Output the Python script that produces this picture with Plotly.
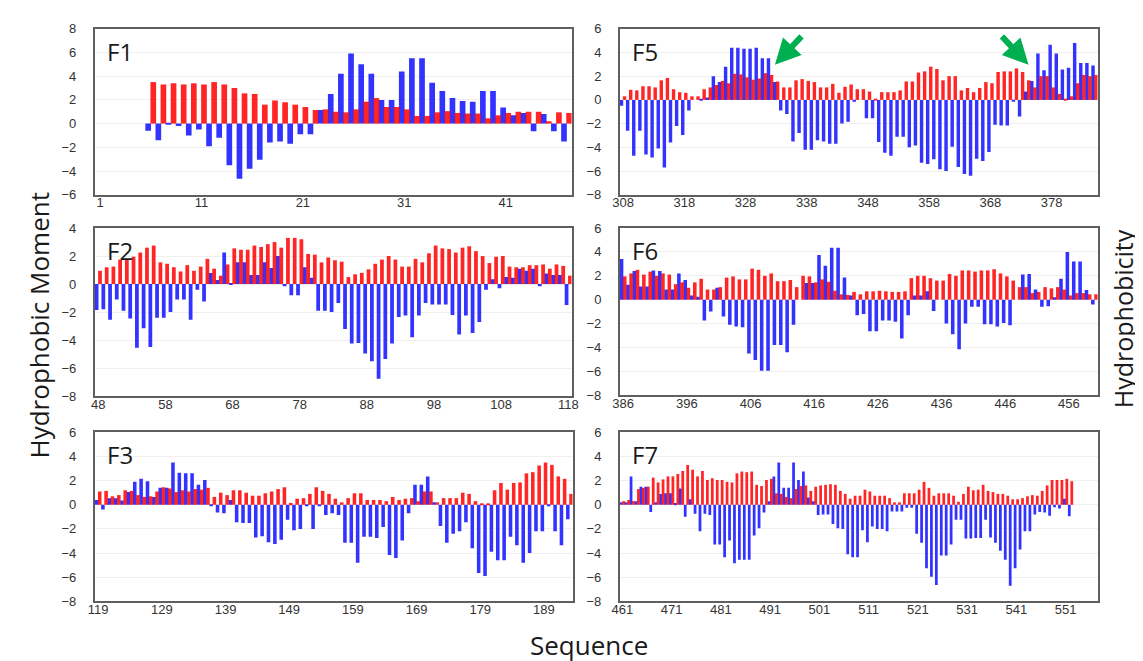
import plotly.graph_objects as go

# ---------------- data ----------------
# F1: residues 6..47 carry values (axis shows 1..47)
f1_start = 6
f1_moment = [3.5, 3.3, 3.4, 3.3, 3.4, 3.3, 3.5, 3.3, 3.0, 2.55,
             2.5, 1.6, 1.95, 1.8, 1.6, 1.4, 1.15, 1.2, 1.0, 0.95,
             1.2, 1.85, 2.15, 1.4, 1.4, 1.2, 0.65, 0.65, 0.95, 1.05,
             0.9, 0.85, 0.85, 0.45, 0.7, 0.9, 1.0, 1.0, 1.0, 0.2,
             0.95, 0.9]
f1_hydro = [-0.6, -1.4, -0.1, -0.2, -1.0, -0.5, -1.9, -1.2, -3.5, -4.65,
            -3.8, -3.05, -1.6, -1.5, -1.7, -0.9, -0.9,
            1.15, 2.5, 4.2, 5.9, 5.0, 4.2, 2.0, 2.0, 4.4, 5.5,
            5.5, 3.45, 2.75, 2.15, 1.9, 1.85, 2.75, 2.75, 1.35, 0.7,
            0.9, -0.65, 0.8, -0.65, -1.5]

# F2: residues 48..118
f2_start = 48
f2_moment = [0.95, 1.2, 1.25, 1.75, 1.8, 1.95, 2.25, 2.6, 2.75, 1.55,
             1.45, 1.2, 0.9, 1.35, 0.95, 1.25, 1.8, 1.1, 0.6, 1.4,
             2.55, 2.45, 2.45, 2.75, 2.65, 2.85, 3.0, 2.6, 3.3, 3.3,
             3.2, 2.15,
             2.1, 1.55, 1.9, 1.7, 1.6, 0.5, 0.7, 0.8, 1.05, 1.45,
             1.75, 2.0, 1.75, 1.25, 1.25, 1.8, 1.55, 2.2, 2.75, 2.55,
             2.5, 2.25, 2.6, 2.7, 2.35, 2.0, 1.5, 1.95, 2.0, 1.25,
             1.2, 1.2, 1.35, 1.35, 1.4, 1.1, 1.4, 1.3, 0.6]
f2_hydro = [-1.85, -1.8, -2.55, -1.1, -1.9, -2.45, -4.55, -3.15, -4.5, -2.4,
            -2.4, -2.0, -1.1, -1.1, -2.55, -0.4, -1.25, 0.8, 0.3, 2.25,
            0.05, 1.55, 1.55, 0.65, 0.65, 1.55, 1.15, 2.0, -0.15, -0.8,
            -0.8, 1.2,
            0.45, -1.9, -1.9, -2.0, -1.35, -3.2, -4.25, -4.2, -4.95, -5.5,
            -6.75, -5.35, -4.25, -2.35, -2.25, -3.8, -2.25, -1.35, -1.45, -1.45,
            -1.45, -2.2, -3.6, -2.25, -3.5, -2.7, -0.4, 0.35, -0.3, 0.5,
            0.45, 1.1, 0.95, 1.1, -0.15, 0.75, 0.65, 0.65, -1.5]

# F3: residues 119..193
f3_start = 119
f3_moment = [1.1, 1.15, 0.7, 0.8, 1.2, 1.15, 0.8, 0.65, 0.7, 1.1,
             1.45, 1.35, 1.05, 1.2, 1.1, 1.3, 1.25, 1.4, 0.65, 1.0,
             0.8, 1.2, 1.2, 1.0, 0.75, 0.75, 0.95, 1.1, 1.3, 1.45,
             0.15, 0.5, 0.55, 0.9,
             1.45, 1.15, 0.9, 0.5, 0.2, 0.55, 0.95, 0.95, 0.4, 0.4,
             0.4, 0.3, 0.65, 0.4, 0.5, 0.55, 0.3, 1.1, 1.1, 0.2,
             0.55, 0.55, 0.55, 1.0, 0.9, 0.3, 0.1, 0.05, 1.2, 1.8,
             1.25, 1.8, 1.85, 2.6, 2.7, 3.25, 3.5, 3.3, 2.35, 2.15,
             0.9]
f3_hydro = [0.4, -0.4, 0.55, 0.55, 0.35, 1.05, 1.9, 2.15, 1.95, 0.65,
            1.4, 1.4, 3.5, 2.65, 2.6, 2.6, 1.65, 2.05, -0.1, -0.65,
            -0.7, 0.4, -1.45, -1.5, -1.5, -2.7, -2.6, -3.1, -3.25, -2.9,
            -1.25, -2.1, -2.0,
            -0.05, -2.0, -0.1, -0.85, -0.7, -0.85, -3.15, -3.15, -4.8, -2.65,
            -2.65, -2.75, -1.85, -4.15, -4.4, -2.95, -0.7, 1.65, 1.65, 2.35,
            0.2, -1.75, -3.15, -2.4, -2.2, -1.45, -3.6, -5.65, -5.9, -3.9,
            -4.6, -4.6, -2.65, -3.35, -4.8, -4.0, -2.2, -2.2, -0.05, -2.2,
            -3.35, -1.2]

# F5: residues 308..385
f5_start = 308
f5_moment = [0.3, 0.85, 0.8, 1.15, 1.15, 1.05, 1.65, 1.85, 0.9, 0.65,
             0.6, 0.3, 0.3, 0.9, 1.05, 1.25, 1.6, 1.4, 2.2, 2.15,
             1.9, 1.7, 1.8, 2.25, 2.1, 1.55, 1.05, 1.05, 1.65, 1.75,
             1.6, 1.5, 1.05, 1.05, 1.35, 0.6, 1.1, 1.3,
             0.9, 0.9, 0.7, 0.05, 0.65, 0.65, 0.65, 0.8, 1.55, 1.55,
             2.3, 2.4, 2.8, 2.6, 1.65, 2.0, 2.0, 0.8, 1.0, 0.65,
             1.0, 1.5, 1.4, 2.35, 2.4, 2.4, 2.65, 2.35, 1.65, 1.05,
             2.0, 2.0, 1.05, 0.5, 0.1, 0.3, 1.4, 2.1, 2.0, 2.1]
f5_hydro = [-0.5, -2.6, -4.7, -2.6, -4.6, -4.85, -4.1, -5.7, -3.6, -2.2,
            -2.95, -0.9, 0.0, 0.05, 0.2, 2.0, 1.5, 2.8, 4.4, 4.4,
            4.3, 4.3, 4.4, 3.5, 3.5, 1.5, -0.9, -1.2, -3.5, -2.8,
            -4.2, -4.2, -3.4, -3.5, -3.7, -3.7, -2.0, -1.85, -0.1,
            0.0, -1.55, -1.55, -3.55, -4.45, -4.7, -3.1, -3.1, -4.0, -3.85,
            -5.3, -5.4, -5.0, -5.85, -6.0, -3.95, -5.65, -6.25, -6.4, -4.95,
            -5.15, -4.4, -2.1, -2.15, -2.15, -0.15, -1.4, 0.7, 1.6, 3.9,
            2.5, 4.65, 3.9, 2.55, 2.7, 4.8, 3.1, 3.1, 2.9]

# F6: residues 386..460
f6_start = 386
f6_moment = [1.95, 2.2, 2.5, 2.1, 2.35, 2.0, 2.2, 2.1, 1.3, 1.45,
             1.0, 1.45, 1.75, 0.85, 0.85, 1.05, 1.85, 1.95, 1.7, 1.7,
             2.6, 2.5, 2.0, 2.2, 1.55, 1.55, 1.65, 1.05, 2.0, 1.95,
             1.45, 1.7, 1.5, 0.75, 0.45, 0.4, 0.65,
             0.45, 0.7, 0.7, 0.75, 0.7, 0.65, 0.65, 0.7, 1.8, 2.0,
             2.0, 1.8, 1.6, 1.6, 2.15, 2.0, 2.45, 2.45, 2.35, 2.45,
             2.45, 2.55, 2.2, 1.95, 1.6, 1.05, 1.05, 0.55, 0.65, 1.05,
             0.95, 1.05, 0.85, 0.35, 0.55, 0.55, 0.45, 0.45]
f6_hydro = [3.4, 1.25, 2.4, 1.1, 1.1, 2.45, 2.4, 0.85, 0.85, 2.2,
            1.65, 0.35, 0.25, -1.75, -1.0, 1.0, -1.4, -2.1, -2.25, -2.3,
            -4.5, -5.05, -5.95, -5.95, -3.8, -3.8, -4.4, -2.1, 0.0, 1.4,
            1.4, 3.75, 2.85, 4.35, 4.35, 1.85, 0.35,
            -1.3, -1.2, -2.65, -2.65, -1.75, -1.75, -1.85, -3.25, -1.3, 0.35,
            0.35, 0.7, -0.95, 0.0, -2.0, -2.9, -4.15, -2.0, -0.6, -0.6,
            -2.05, -2.05, -2.25, -1.95, -2.15, 0.0, 2.1, 2.15, 0.85, -0.6,
            -0.55, 0.2, 1.75, 4.0, 3.2, 3.2, 0.8, -0.4]

# F7: residues 461..552 (axis shows 461..557)
f7_start = 461
f7_moment = [0.3, 0.4, 0.3, 1.3, 1.4, 1.5, 2.25, 1.85, 2.1, 2.35,
             2.35, 2.55, 2.8, 3.3, 2.9, 2.35, 2.8, 2.05, 2.2, 2.05,
             2.05, 1.9, 1.85, 2.6, 2.75, 2.7, 2.75, 1.65, 1.55, 2.05,
             2.15, 0.95, 0.9, 0.65, 0.55, 1.3, 1.55, 1.6, 1.15, 1.5,
             1.6, 1.65, 1.7, 1.65,
             1.15, 0.9, 0.5, 0.75, 0.75, 1.25, 1.1, 0.75, 0.75, 0.75,
             0.55, 0.2, 0.2, 0.95, 0.95, 0.95, 1.25, 1.9, 1.4, 0.75,
             0.95, 0.95, 0.95, 0.75, 0.25, 0.9, 1.5, 1.2, 1.25, 1.65,
             1.15, 1.05, 0.9, 0.9, 0.75, 0.45, 0.45, 0.55, 0.7, 0.8,
             0.75, 1.15, 1.6, 2.05, 2.05, 2.05, 2.15, 1.95]
f7_hydro = [0.2, 0.2, 2.35, 0.3, 1.5, 1.5, -0.6, 0.2, 0.9, 0.95,
            0.95, 0.15, 1.35, -1.0, 0.45, -0.75, -2.2, -0.75, -0.85, -3.3,
            -3.3, -4.35, -2.95, -4.85, -4.55, -4.55, -4.55, -2.55, -1.95, -0.65,
            0.3, 2.35, 3.5, 1.4, 1.4, 3.5, 2.05, 2.75, 0.6, 0.3,
            -0.85, -0.8, -0.8, -1.6,
            -1.95, -2.0, -4.1, -4.35, -4.35, -2.1, -3.1, -1.8, -2.0, -2.0,
            -2.2, -0.55, -0.55, -0.55, -0.25, -0.25, -2.4, -3.15, -5.25, -5.95,
            -6.65, -4.2, -4.2, -3.3, -1.25, -1.25, -2.8, -2.8, -2.75, -2.75,
            -1.25, -2.7, -3.15, -3.8, -4.55, -6.7, -5.25, -3.7, -2.2, -2.2,
            -0.8, -0.6, -0.65, -0.9, -0.2, -0.3, 0.5, -0.95]

panel_names = ["F1", "F2", "F3", "F5", "F6", "F7"]
panel_starts = [f1_start, f2_start, f3_start, f5_start, f6_start, f7_start]
panel_moment = [f1_moment, f2_moment, f3_moment, f5_moment, f6_moment, f7_moment]
panel_hydro = [f1_hydro, f2_hydro, f3_hydro, f5_hydro, f6_hydro, f7_hydro]
panel_xspan = [(1, 47), (48, 118), (119, 193), (308, 385), (386, 460), (461, 557)]
panel_xticks = [[1, 11, 21, 31, 41],
                list(range(48, 119, 10)),
                list(range(119, 190, 10)),
                list(range(308, 379, 10)),
                list(range(386, 457, 10)),
                list(range(461, 552, 10))]
panel_yrange = [(-6, 8), (-8, 4), (-8, 6), (-8, 6), (-8, 6), (-8, 6)]

# ---------------- layout geometry (pixels) ----------------
W, H = 1143, 661
col_px = [(80, 563), (80, 563), (80, 564), (612, 1096), (612, 1096), (612, 1096)]
row_px = [(14, 184), (218, 390), (427, 600), (14, 184), (218, 389), (427, 600)]

BLUE = "#3333ff"
RED = "#ff0000"
TICKFONT = dict(family="Liberation Sans, Arial, sans-serif", size=13, color="#333333")
TITLEFONT = "Open Sans, Liberation Sans, sans-serif"

fig = go.Figure()
layout = dict(
    width=W, height=H,
    margin=dict(l=0, r=0, t=0, b=0),
    paper_bgcolor="white", plot_bgcolor="white",
    barmode="overlay", showlegend=False,
)
annotations = []

for i in range(6):
    k = "" if i == 0 else str(i + 1)
    xa, ya = "x" + k, "y" + k
    start = panel_starts[i]
    xs_h = [start + j for j in range(len(panel_hydro[i]))]
    xs_m = [start + j for j in range(len(panel_moment[i]))]
    fig.add_trace(go.Bar(x=xs_h, y=panel_hydro[i], width=0.56, offset=-0.53,
                         marker=dict(color=BLUE, line=dict(width=0)),
                         xaxis=xa, yaxis=ya, name="Hydrophobicity"))
    fig.add_trace(go.Bar(x=xs_m, y=panel_moment[i], width=0.56, offset=-0.03,
                         marker=dict(color=RED, line=dict(width=0)), opacity=0.85,
                         xaxis=xa, yaxis=ya, name="Hydrophobic Moment"))
    x0, x1 = col_px[i]
    y0, y1 = row_px[i]
    lo, hi = panel_xspan[i]
    layout["xaxis" + k] = dict(
        domain=[x0 / W, x1 / W], anchor=ya, range=[lo - 0.5, hi + 0.5],
        tickmode="array", tickvals=panel_xticks[i], ticks="",
        showline=True, mirror=True, linecolor="#5f5f5f", linewidth=2,
        showgrid=False, zeroline=False, tickfont=TICKFONT, ticklabelstandoff=-5,
    )
    ylo, yhi = panel_yrange[i]
    layout["yaxis" + k] = dict(
        domain=[1 - y1 / H, 1 - y0 / H], anchor=xa, range=[ylo, yhi], dtick=2,
        tick0=0, showline=True, mirror=True, linecolor="#5f5f5f", linewidth=2,
        showgrid=True, gridcolor="#efefef", gridwidth=1, zeroline=False,
        ticks="", tickfont=TICKFONT, ticklabelstandoff=14,
    )
    annotations.append(dict(
        text=panel_names[i], xref="paper", yref="paper",
        x=(x0 + 10) / W, y=1 - (y0 + 23) / H, xanchor="left", yanchor="middle",
        showarrow=False, font=dict(family=TITLEFONT, size=24, color="#1a1a1a")))

# axis titles
annotations.append(dict(text="Hydrophobic Moment", xref="paper", yref="paper",
                        x=23 / W, y=1 - 318 / H, textangle=-90, showarrow=False,
                        xanchor="center", yanchor="middle",
                        font=dict(family=TITLEFONT, size=26, color="#1a1a1a")))
annotations.append(dict(text="Hydrophobicity", xref="paper", yref="paper",
                        x=1122 / W, y=1 - 311 / H, textangle=-90, showarrow=False,
                        xanchor="center", yanchor="middle",
                        font=dict(family=TITLEFONT, size=25, color="#1a1a1a")))
annotations.append(dict(text="Sequence", xref="paper", yref="paper",
                        x=581 / W, y=1 - 645 / H, showarrow=False,
                        xanchor="center", yanchor="middle",
                        font=dict(family=TITLEFONT, size=26, color="#1a1a1a")))

# green arrows in F5
for tip, tail in [((769, 51), (797, 21)), ((1026, 51), (998, 21))]:
    annotations.append(dict(text="", xref="paper", yref="paper",
                            x=tip[0] / W, y=1 - tip[1] / H,
                            ax=tail[0] - tip[0], ay=tail[1] - tip[1],
                            showarrow=True, arrowhead=2, arrowsize=0.85,
                            arrowwidth=6, arrowcolor="#00b050"))

layout["annotations"] = annotations
fig.update_layout(**layout)
fig.write_html("out.html")
